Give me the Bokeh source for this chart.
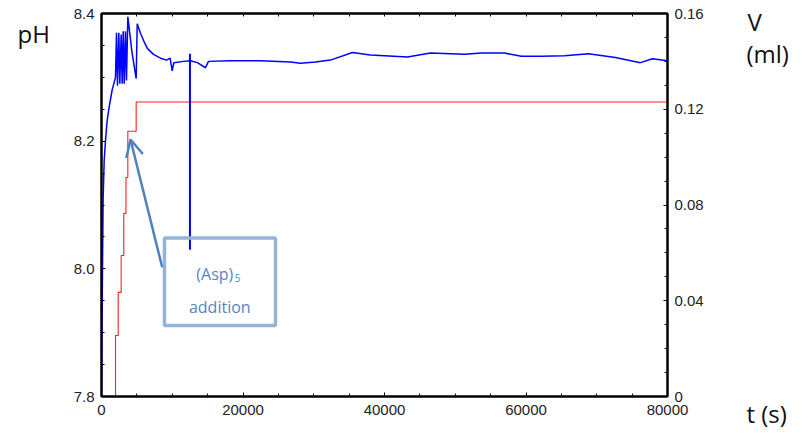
from bokeh.plotting import figure
from bokeh.models import (Range1d, LinearAxis, SingleIntervalTicker, NumeralTickFormatter,
                          CustomJSTickFormatter, Label, BoxAnnotation, Arrow, OpenHead)
from bokeh.embed import file_html
from bokeh.resources import INLINE

# ---------------- data ----------------
# pH recording (blue)
ph_time = [0, 40, 100, 230, 380, 560, 780, 1030, 1500, 1980,
           2120, 2260, 2450, 2590, 2780, 2920, 3070, 3210, 3390, 3530, 3720,
           4300, 4900, 5050, 5510, 5930, 6500, 7350, 8340, 9200, 9700, 9990, 10220,
           11590, 12580, 13560, 14700, 15120, 18230, 22470, 26700, 28120, 30240,
           32360, 35470, 38010, 43240, 46490, 51300, 53700, 56950, 59350, 62180,
           65430, 68820, 72640, 76170, 77870, 80000]
ph_value = [7.80, 7.88, 7.95, 8.11, 8.17, 8.20, 8.23, 8.25, 8.28, 8.30,
            8.370, 8.287, 8.370, 8.290, 8.367, 8.290, 8.372, 8.290, 8.372, 8.295, 8.395,
            8.340, 8.298, 8.384, 8.369, 8.358, 8.345, 8.336, 8.330, 8.327, 8.330, 8.310, 8.323,
            8.325, 8.326, 8.323, 8.315, 8.325, 8.326, 8.326, 8.324, 8.322, 8.324,
            8.327, 8.339, 8.335, 8.332, 8.338, 8.336, 8.338, 8.338, 8.333, 8.333,
            8.334, 8.337, 8.331, 8.323, 8.329, 8.326]

# added titrant volume (red, step)
vol_time = [0, 1980, 2360, 2780, 3150, 3460, 3720, 4900, 80000]
vol_value = [0, 0.0255, 0.0435, 0.0589, 0.0765, 0.0915, 0.1108, 0.1230, 0.1230]

# (Asp)5 addition marker
add_time = [12500]
add_ph_low = [8.030]
add_ph_high = [8.337]

x_ticks_major = 20000
ph_ticks_major = 0.2
vol_ticks_major = 0.04

# ---------------- figure ----------------
TICK_FONT = "Liberation Sans"
TICK_SIZE = "15px"
TITLE_FONT = "Open Sans"

p = figure(width=804, height=430, output_backend="svg", toolbar_location=None,
           x_range=Range1d(0, 80000), y_range=Range1d(7.8, 8.4),
           x_axis_type=None, y_axis_type=None,
           min_border_left=101, min_border_right=137, min_border_top=13, min_border_bottom=34)
p.extra_y_ranges = {"v": Range1d(0, 0.16)}
p.background_fill_color = "white"
p.border_fill_color = "white"
p.outline_line_color = "black"
p.outline_line_width = 2
p.xgrid.visible = False
p.ygrid.visible = False


def style_axis(ax, labels=True):
    ax.axis_line_color = "black"
    ax.axis_line_width = 2
    ax.major_tick_in = 4
    ax.major_tick_out = 0
    ax.minor_tick_in = 3
    ax.minor_tick_out = 0
    ax.major_tick_line_color = "black"
    ax.minor_tick_line_color = "black"
    ax.major_label_text_font = TICK_FONT
    ax.major_label_text_font_size = TICK_SIZE if labels else "1px"
    ax.major_label_text_color = "#222222" if labels else None
    ax.major_label_standoff = 7


xb = LinearAxis(ticker=SingleIntervalTicker(interval=x_ticks_major, num_minor_ticks=4),
                formatter=NumeralTickFormatter(format="0"))
style_axis(xb)
xb.major_label_standoff = 8
p.add_layout(xb, "below")

xt = LinearAxis(ticker=SingleIntervalTicker(interval=5000, num_minor_ticks=0))
style_axis(xt, labels=False)
xt.major_tick_in = 3
xt.major_label_standoff = 0
p.add_layout(xt, "above")

yl = LinearAxis(ticker=SingleIntervalTicker(interval=ph_ticks_major, num_minor_ticks=4),
                formatter=NumeralTickFormatter(format="0.0"))
style_axis(yl)
p.add_layout(yl, "left")

yr = LinearAxis(y_range_name="v",
                ticker=SingleIntervalTicker(interval=vol_ticks_major, num_minor_ticks=4),
                formatter=CustomJSTickFormatter(code="return Math.abs(tick) < 1e-9 ? '0' : tick.toFixed(2);"))
style_axis(yr)
p.add_layout(yr, "right")

# ---------------- data marks ----------------
p.step(vol_time, vol_value, mode="after", y_range_name="v", line_color="#ff2020", line_width=1.1)
p.line(ph_time, ph_value, line_color="#0000ff", line_width=1.5)
p.segment(x0=add_time, y0=add_ph_low, x1=add_time, y1=add_ph_high,
          line_color="#0000ff", line_width=2)

# ---------------- annotation: (Asp)5 addition ----------------
ANN_BOX = "#95b3d7"
ANN_LINE = "#4f81bd"
ANN_TEXT = "#5585c2"
p.add_layout(BoxAnnotation(left=8900, right=24590, bottom=7.9112, top=8.0483,
                           fill_color=None, fill_alpha=0, line_color=ANN_BOX,
                           line_alpha=1.0, line_width=3.5))
p.add_layout(Arrow(x_start=8577, y_start=8.0025, x_end=4098, y_end=8.2026,
                   line_color=ANN_LINE, line_width=2.5,
                   end=OpenHead(size=17, line_color=ANN_LINE, line_width=2.5)))
p.add_layout(Label(x=13400, y=7.9922, text="(Asp)", text_font=TITLE_FONT,
                   text_font_size="16px", text_color=ANN_TEXT, text_baseline="alphabetic"))
p.add_layout(Label(x=18850, y=7.9864, text="5", text_font=TITLE_FONT,
                   text_font_size="10px", text_color=ANN_TEXT, text_baseline="alphabetic"))
p.add_layout(Label(x=16716, y=7.9399, text="addition", text_font=TITLE_FONT,
                   text_font_size="16px", text_color=ANN_TEXT, text_align="center",
                   text_baseline="alphabetic"))

# ---------------- axis titles (in side panels so they are not clipped) ----------------
p.add_layout(Label(x=-21, y=363, x_units="screen", y_units="screen", text="pH",
                   text_font=TITLE_FONT, text_font_size="24px", text_color="#111111",
                   text_baseline="alphabetic"), "left")
p.add_layout(Label(x=41, y=375, x_units="screen", y_units="screen", text="V",
                   text_font=TITLE_FONT, text_font_size="24px", text_color="#111111",
                   text_baseline="alphabetic"), "right")
p.add_layout(Label(x=26, y=343, x_units="screen", y_units="screen", text="(ml)",
                   text_font=TITLE_FONT, text_font_size="24px", text_color="#111111",
                   text_baseline="alphabetic"), "right")
p.add_layout(Label(x=-16, y=-17, x_units="screen", y_units="screen", text="t (s)",
                   text_font=TITLE_FONT, text_font_size="24px", text_color="#111111",
                   text_baseline="alphabetic"), "right")

open("out.html", "w").write(file_html(p, INLINE))
